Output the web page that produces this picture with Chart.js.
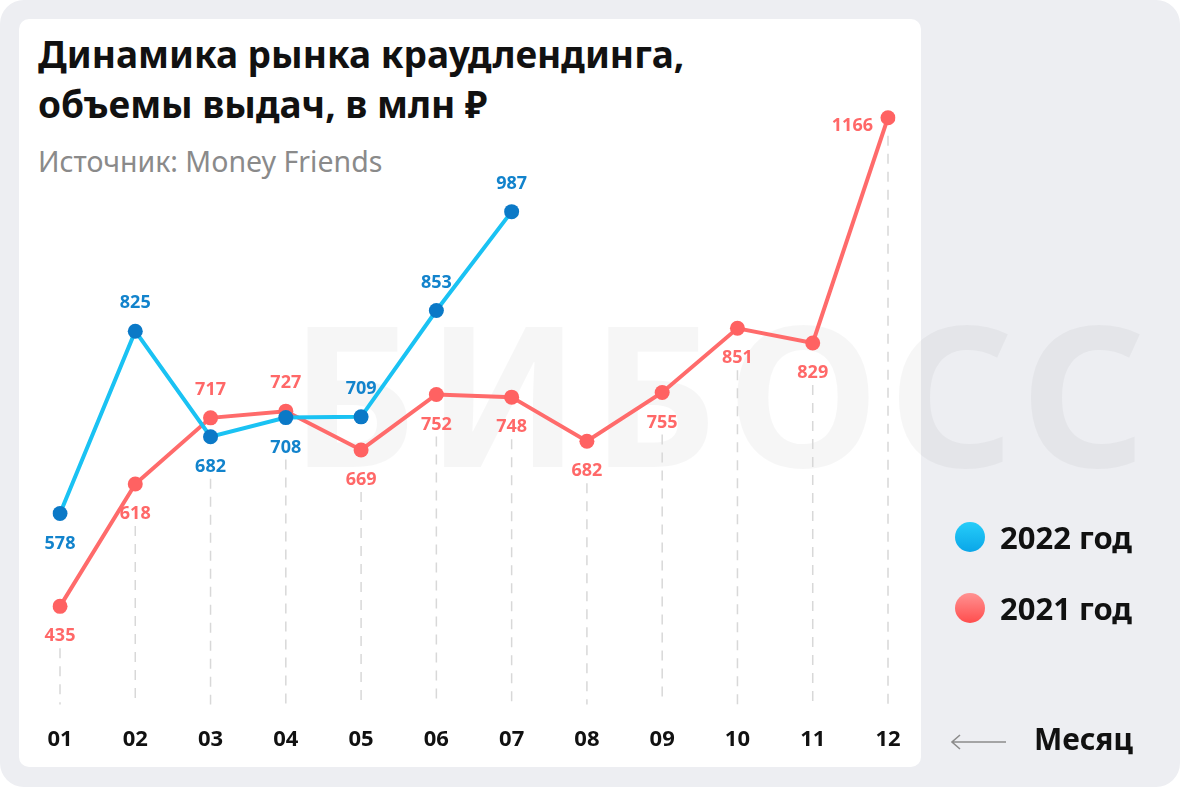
<!DOCTYPE html>
<html>
<head>
<meta charset="utf-8">
<script src="https://cdn.jsdelivr.net/npm/chart.js"></script>
<style>
  body { margin: 0; background: #fff; width: 1180px; height: 787px; overflow: hidden; font-family: "Noto Sans", sans-serif; }
  #bg { position: absolute; left: 0; top: 0; width: 1180px; height: 787px; background: #edeef2; border-radius: 24px; }
  #card { position: absolute; left: 19px; top: 19px; width: 902px; height: 748px; background: #fff; border-radius: 10px; }
  #wm { position: absolute; left: 290px; top: 294px; font-size: 195px; font-weight: 700; line-height: 1; color: rgba(0,0,0,0.035);
        letter-spacing: 10px; white-space: nowrap; }
  #title { position: absolute; left: 38px; top: 29px; font-size: 37px; font-weight: 700; line-height: 50px; color: #111; white-space: nowrap; }
  #sub { position: absolute; left: 38px; top: 147px; font-size: 28.5px; line-height: 28px; color: #8a8a8a; white-space: nowrap; }
  canvas { position: absolute; left: 0; top: 0; }
  .leg { position: absolute; left: 955px; font-size: 31px; font-weight: 700; color: #111; white-space: nowrap; line-height: 30px; }
  .leg i { display: inline-block; width: 30px; height: 30px; border-radius: 50%; vertical-align: top; margin-right: 15px; }
  #month { position: absolute; left: 950px; top: 724px; font-size: 30px; font-weight: 700; color: #111; line-height: 30px; white-space: nowrap; }
  #month svg { vertical-align: middle; margin-right: 26px; }
</style>
</head>
<body>
<div id="bg"></div>
<div id="card"></div>
<div id="wm">БИБОСС</div>
<div id="title">Динамика рынка краудлендинга,<br>объемы выдач, в млн ₽</div>
<div id="sub">Источник: Money Friends</div>
<canvas id="lineChart" width="1180" height="787"></canvas>
<div class="leg" style="top:522px"><i style="background:linear-gradient(#26cdf9,#0aa6e8)"></i>2022 год</div>
<div class="leg" style="top:593px"><i style="background:linear-gradient(#ff9292,#ff4d4d)"></i>2021 год</div>
<div id="month"><svg width="58" height="16"><path d="M2 8 H56 M10 1 L2 8 L10 15" stroke="#8c8c8c" stroke-width="1.6" fill="none"/></svg>Месяц</div>

<script>
//Linjediagram
let months = ["01", "02", "03", "04", "05", "06", "07", "08", "09", "10", "11", "12"];
let values2022 = [578, 825, 682, 708, 709, 853, 987];
let values2021 = [435, 618, 717, 727, 669, 752, 748, 682, 755, 851, 829, 1166];

// where each value label sits relative to its point
let side2022 = ["bottom", "top", "bottom", "bottom", "top", "top", "top"];
let side2021 = ["bottom", "bottom", "top", "top", "bottom", "bottom", "bottom", "bottom", "bottom", "bottom", "bottom", "left"];

let labelColors = ["#1283cc", "#ff6868"];
let sides = [side2022, side2021];

function labelOffset(side) {
    if (side === "top") return -28;
    if (side === "bottom") return 30;
    return 8;
}

// dashed month guides, drawn under the lines
const guides = {
    id: "guides",
    beforeDatasetsDraw(chart) {
        const ctx = chart.ctx;
        const area = chart.chartArea;
        ctx.save();
        ctx.setLineDash([10, 8]);
        ctx.strokeStyle = "#d8d8d8";
        ctx.lineWidth = 1.5;
        months.forEach((m, i) => {
            let start = null;
            chart.data.datasets.forEach((ds, d) => {
                const p = chart.getDatasetMeta(d).data[i];
                if (!p) return;
                const s = sides[d][i];
                const y = p.y + (s === "bottom" ? 42 : 18);
                if (start === null || y > start) start = y;
            });
            if (start === null) return;
            const x = chart.scales.x.getPixelForValue(i);
            ctx.beginPath();
            ctx.moveTo(x, start);
            ctx.lineTo(x, area.bottom + 8);
            ctx.stroke();
        });
        ctx.restore();
    }
};

// value labels next to every point
const valueLabels = {
    id: "valueLabels",
    afterDatasetsDraw(chart) {
        const ctx = chart.ctx;
        ctx.save();
        ctx.font = "700 18px 'Noto Sans'";
        ctx.textBaseline = "middle";
        chart.data.datasets.forEach((ds, d) => {
            ctx.fillStyle = labelColors[d];
            chart.getDatasetMeta(d).data.forEach((p, i) => {
                const s = sides[d][i];
                if (s === "left") {
                    ctx.textAlign = "right";
                    ctx.fillText(ds.data[i], p.x - 15, p.y + labelOffset(s));
                } else {
                    ctx.textAlign = "center";
                    ctx.fillText(ds.data[i], p.x, p.y + labelOffset(s));
                }
            });
        });
        ctx.restore();
    }
};

new Chart("lineChart", {
    type: "line",
    data: {
        labels: months,
        datasets: [{
            label: "2022 год",
            data: values2022,
            yAxisID: "y2",
            borderColor: "#1ac2f3",
            borderWidth: 4,
            pointRadius: 7.5,
            pointHoverRadius: 7.5,
            pointBackgroundColor: "#0b79c7",
            pointBorderWidth: 0,
            tension: 0
        }, {
            label: "2021 год",
            data: values2021,
            yAxisID: "y",
            borderColor: "#ff6b6b",
            borderWidth: 4,
            pointRadius: 7.5,
            pointHoverRadius: 7.5,
            pointBackgroundColor: "#ff6262",
            pointBorderWidth: 0,
            tension: 0
        }]
    },
    options: {
        responsive: false,
        animation: false,
        layout: {padding: {left: 60, right: 292, top: 95, bottom: 12}},
        plugins: {
            legend: {display: false},
            tooltip: {enabled: false}
        },
        scales: {
            x: {
                offset: false,
                grid: {display: false},
                border: {display: false},
                ticks: {
                    color: "#111",
                    padding: 22,
                    font: {family: "Noto Sans", size: 22, weight: "bold"}
                }
            },
            y: {display: false, min: 300, max: 1200},
            y2: {display: false, min: 330, max: 1145}
        }
    },
    plugins: [guides, valueLabels]
});
</script>
</body>
</html>
